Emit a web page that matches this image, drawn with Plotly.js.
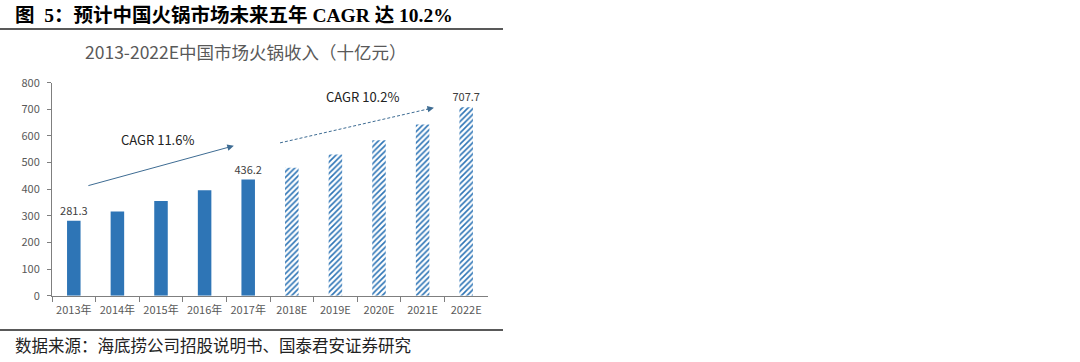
<!DOCTYPE html>
<html><head><meta charset="utf-8">
<script src="https://cdn.plot.ly/plotly-3.0.1.min.js"></script>
<style>html,body{margin:0;padding:0;background:#fff}#chart{width:1080px;height:362px}</style>
</head><body><div id="chart"></div>
<script>
const categories = ["2013年","2014年","2015年","2016年","2017年","2018E","2019E","2020E","2021E","2022E"];
const actualValues = [281.3, 316, 356, 396, 436.2, null, null, null, null, null];
const forecastValues = [null, null, null, null, null, 481, 530, 584, 643, 707.7];
const actualLabels = ["281.3","","","","436.2","","","","",""];
const forecastLabels = ["","","","","","","","","","707.7"];
const yTicks = [0,100,200,300,400,500,600,700,800];

const W = 1080, H = 362;
const px = v => v / W, py = v => 1 - v / H;
const blue = "#2E75B6";
const gray = "#595959";
const arrowColor = "#3E6C93";
const font = "'Noto Sans CJK SC', 'Noto Sans', sans-serif";
const serif = "'Liberation Serif', 'Noto Sans CJK SC', serif";

const traces = [
  {type:"bar", x:categories, y:actualValues, text:actualLabels, textposition:"outside",
   cliponaxis:false, constraintext:"none", textfont:{size:11,color:"#404040",family:font},
   marker:{color:blue}, hoverinfo:"x+y"},
  {type:"bar", x:categories, y:forecastValues, text:forecastLabels, textposition:"outside",
   cliponaxis:false, constraintext:"none", textfont:{size:11,color:"#404040",family:font},
   marker:{color:"#ffffff", pattern:{shape:"/", fgcolor:blue, bgcolor:"#ffffff", size:4, solidity:0.4}},
   hoverinfo:"x+y"}
];

const layout = {
  width:W, height:H, margin:{l:0,r:0,t:0,b:0}, showlegend:false,
  paper_bgcolor:"#fff", plot_bgcolor:"#fff", barmode:"overlay", bargap:0.69,
  font:{family:font, color:gray},
  xaxis:{domain:[px(52), px(488)], type:"category", showline:true, linecolor:"#7f7f7f", linewidth:1,
    ticks:"outside", tickson:"boundaries", ticklen:5, tickcolor:"#7f7f7f", tickangle:0, ticklabelstandoff:4,
    tickfont:{size:11,color:gray,family:font}, showgrid:false, automargin:false, fixedrange:true},
  yaxis:{domain:[py(295.7), py(82.7)], range:[0,800], tickvals:yTicks, showline:true, linecolor:"#7f7f7f",
    ticks:"outside", ticklen:4, tickcolor:"#7f7f7f", showgrid:false, zeroline:false, ticklabelstandoff:5,
    tickfont:{size:11,color:gray,family:font}, automargin:false, fixedrange:true},
  shapes:[
    {type:"line", xref:"paper", yref:"paper", x0:0, x1:px(503), y0:py(29), y1:py(29), line:{color:"#222",width:1.5}},
    {type:"line", xref:"paper", yref:"paper", x0:0, x1:px(503), y0:py(330), y1:py(330), line:{color:"#222",width:1.5}},
    {type:"line", xref:"x", yref:"y", x0:4.73, y0:574, x1:8.2, y1:704, line:{color:arrowColor,width:1,dash:"3px,2px"}}
  ],
  annotations:[
    {xref:"paper", yref:"paper", x:px(13), y:py(15), xanchor:"left", yanchor:"middle", showarrow:false,
     text:"<b>图  5：预计中国火锅市场未来五年 CAGR 达 10.2%</b>", font:{family:serif,size:19.5,color:"#000"}},
    {xref:"paper", yref:"paper", x:px(246), y:py(52), xanchor:"center", yanchor:"middle", showarrow:false,
     text:"2013-2022E中国市场火锅收入（十亿元）", font:{family:font,size:17.5,color:gray}},
    {xref:"paper", yref:"paper", x:px(13), y:py(346), xanchor:"left", yanchor:"middle", showarrow:false,
     text:"数据来源：海底捞公司招股说明书、国泰君安证券研究", font:{family:serif,size:16.5,color:"#222"}},
    {xref:"x", yref:"y", x:3.67, y:563, axref:"x", ayref:"y", ax:0.30, ay:412, showarrow:true,
     arrowhead:2, arrowsize:1.3, arrowwidth:1, arrowcolor:arrowColor, standoff:0, startstandoff:0, text:""},
    {xref:"x", yref:"y", x:8.26, y:706, ax:-9, ay:2, showarrow:true,
     arrowhead:2, arrowsize:1.3, arrowwidth:1, arrowcolor:arrowColor, standoff:0, text:""},
    {xref:"paper", yref:"paper", x:px(157), y:py(139), xanchor:"center", yanchor:"middle", showarrow:false,
     text:"CAGR 11.6%", font:{family:font,size:13,color:"#222"}},
    {xref:"paper", yref:"paper", x:px(362), y:py(97), xanchor:"center", yanchor:"middle", showarrow:false,
     text:"CAGR 10.2%", font:{family:font,size:13,color:"#222"}}
  ]
};
Plotly.newPlot("chart", traces, layout, {displayModeBar:false, staticPlot:true});
</script></body></html>
